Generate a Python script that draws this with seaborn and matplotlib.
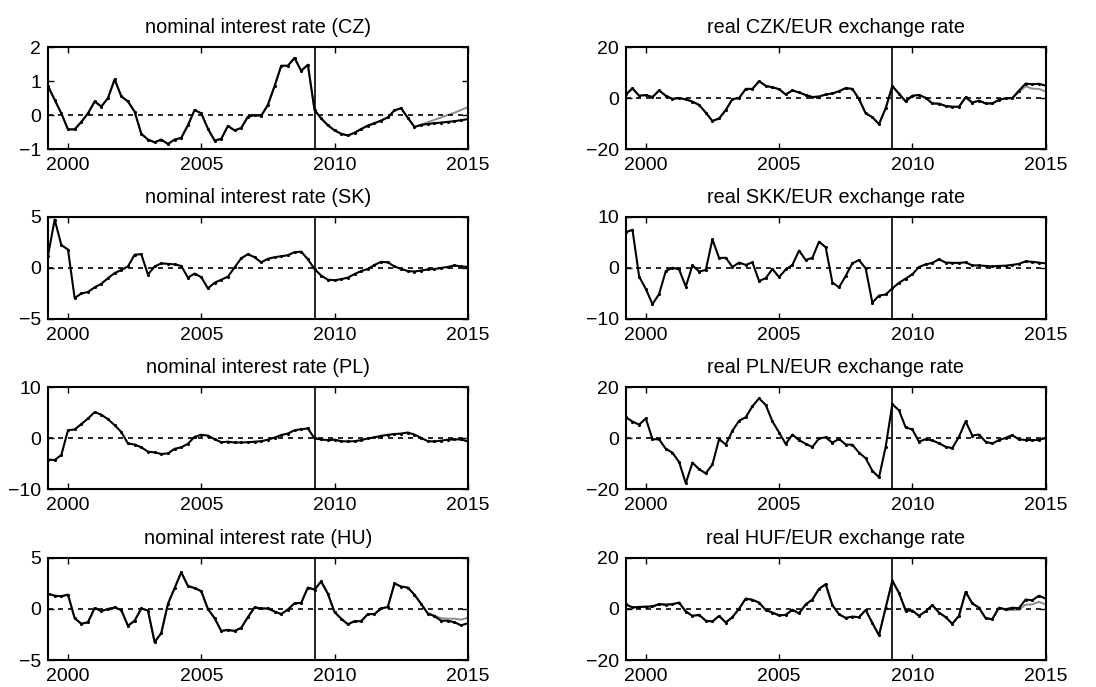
import numpy as np
import pandas as pd
import matplotlib
matplotlib.use('Agg')
import matplotlib.pyplot as plt
import seaborn as sns

# quarterly dates 1999Q2 .. 2015Q1
dates = [1999.25 + 0.25 * i for i in range(64)]
break_date = 2009.25

cz_rate = [0.85, 0.45, 0.05, -0.42, -0.42, -0.2, 0.05, 0.4, 0.25, 0.5, 1.05, 0.55,
           0.4, 0.1, -0.55, -0.72, -0.8, -0.72, -0.85, -0.72, -0.67, -0.3, 0.15, 0.05,
           -0.4, -0.75, -0.7, -0.32, -0.45, -0.38, -0.05, 0.0, -0.02, 0.3, 0.85, 1.45,
           1.45, 1.68, 1.3, 1.48, 0.15, -0.1, -0.3, -0.45, -0.55, -0.6, -0.52, -0.41,
           -0.31, -0.24, -0.16, -0.07, 0.14, 0.2, -0.08, -0.35, -0.29, -0.26, -0.24, -0.22,
           -0.2, -0.18, -0.15, -0.12]
cz_rate_alt = [-0.35, -0.28, -0.21, -0.14, -0.07, 0.0, 0.07, 0.15, 0.23]  # from 2013.0

czk_eur = [1.4, 3.8, 0.9, 1.2, 0.4, 3.0, 0.9, -0.3, 0.0, -0.5, -1.4, -2.7,
           -5.7, -9.0, -8.0, -4.7, -0.4, 0.0, 3.6, 3.6, 6.6, 4.8, 4.2, 3.5,
           1.4, 3.0, 2.2, 1.2, 0.4, 0.6, 1.4, 1.8, 2.7, 3.9, 3.6, -0.4,
           -6.0, -7.5, -10.2, -4.0, 4.7, 1.7, -1.3, 0.9, 1.2, 0.1, -2.1, -2.2,
           -3.1, -3.4, -3.4, 0.3, -1.8, -1.0, -2.1, -2.1, -0.7, -0.1, 0.0, 2.9,
           5.7, 5.4, 5.6, 4.9]
czk_eur_alt = [-0.1, -0.1, 2.4, 4.6, 3.7, 3.6, 2.6]  # from 2013.5

sk_rate = [1.2, 4.75, 2.25, 1.8, -2.95, -2.5, -2.35, -1.9, -1.55, -1.0, -0.5, -0.2,
           0.15, 1.3, 1.35, -0.65, 0.15, 0.45, 0.4, 0.35, 0.2, -0.95, -0.55, -0.9,
           -2.0, -1.45, -1.15, -0.85, 0.05, 0.95, 1.35, 1.05, 0.55, 0.9, 1.05, 1.15,
           1.25, 1.55, 1.6, 0.85, -0.1, -0.75, -1.15, -1.2, -1.1, -0.95, -0.6, -0.3,
           -0.1, 0.3, 0.6, 0.55, 0.15, -0.1, -0.3, -0.35, -0.25, -0.15, -0.1, 0.0,
           0.1, 0.25, 0.15, 0.1]

skk_eur = [7.0, 7.5, -1.7, -4.1, -7.1, -5.1, -0.6, 0.05, -0.3, -3.65, 0.5, -0.7,
           -0.4, 5.6, 1.95, 2.0, 0.2, 1.05, 0.6, 1.1, -2.55, -2.0, -0.2, -1.8,
           -0.3, 0.6, 3.4, 1.55, 2.0, 5.15, 4.05, -2.85, -3.8, -1.55, 0.9, 1.55,
           -0.1, -6.8, -5.4, -5.2, -4.0, -2.9, -2.1, -1.25, 0.2, 0.7, 1.0, 1.7,
           1.05, 1.0, 1.0, 1.1, 0.5, 0.5, 0.4, 0.3, 0.4, 0.45, 0.6, 0.8,
           1.3, 1.2, 1.05, 0.9]

pl_rate = [-4.2, -4.3, -3.3, 1.55, 1.7, 2.75, 3.85, 5.1, 4.6, 3.7, 2.55, 1.2,
           -1.05, -1.25, -1.8, -2.65, -2.8, -3.1, -3.0, -2.1, -1.8, -1.1, 0.25, 0.65,
           0.5, -0.2, -0.8, -0.7, -0.85, -0.85, -0.8, -0.7, -0.6, -0.3, 0.1, 0.6,
           0.9, 1.55, 1.75, 1.9, -0.05, -0.25, -0.4, -0.3, -0.6, -0.65, -0.6, -0.4,
           -0.05, 0.15, 0.45, 0.65, 0.8, 0.9, 1.1, 0.7, 0.05, -0.6, -0.65, -0.5,
           -0.3, -0.25, -0.25, -0.65]

pln_eur = [8.2, 6.5, 5.3, 7.7, -0.4, -0.5, -4.2, -5.7, -9.4, -17.7, -9.6, -12.2,
           -13.8, -10.3, -0.4, -2.5, 2.9, 6.8, 8.2, 12.5, 15.6, 13.0, 6.6, 2.2,
           -2.3, 1.4, -0.8, -2.2, -3.5, -0.1, 0.3, -1.8, -0.3, -2.5, -2.6, -5.7,
           -7.9, -12.8, -15.4, -3.4, 13.3, 10.9, 4.2, 3.4, -1.4, -0.4, -0.9, -2.0,
           -3.4, -3.9, 0.5, 6.6, 1.0, 1.4, -1.4, -2.1, -0.8, 0.1, 1.2, -0.5,
           -0.7, -0.8, -0.7, 0.1]

hu_rate = [1.5, 1.3, 1.25, 1.4, -0.9, -1.45, -1.3, 0.1, -0.2, 0.0, 0.15, -0.1,
           -1.65, -1.15, 0.05, -0.15, -3.25, -2.35, 0.5, 2.05, 3.6, 2.25, 2.05, 1.75,
           0.0, -0.9, -2.15, -2.05, -2.15, -1.85, -0.8, 0.15, 0.05, 0.05, -0.25, -0.5,
           -0.05, 0.55, 0.6, 2.1, 1.9, 2.7, 1.5, -0.3, -0.95, -1.5, -1.2, -1.2,
           -0.5, -0.5, 0.05, 0.2, 2.5, 2.2, 2.1, 1.4, 0.5, -0.45, -0.7, -1.15,
           -1.15, -1.3, -1.6, -1.4]
hu_rate_alt = [-0.4, -0.65, -0.9, -0.95, -0.95, -1.05, -0.85]  # from 2013.5

huf_eur = [1.8, 0.6, 0.8, 0.9, 1.0, 1.9, 1.7, 1.9, 2.5, -1.0, -2.7, -2.3,
           -4.6, -4.9, -2.7, -5.3, -3.2, 0.1, 4.1, 3.6, 2.5, -0.4, -1.4, -2.5,
           -2.3, -0.3, -1.7, 1.8, 3.7, 7.9, 9.7, 1.5, -2.1, -3.5, -3.0, -3.2,
           -0.4, -5.5, -10.3, 0.5, 11.1, 6.3, -0.6, -0.6, -2.7, -0.9, 1.5, -1.4,
           -3.2, -5.8, -2.7, 6.7, 2.2, 0.5, -3.6, -4.0, 0.5, -0.1, 0.5, 0.3,
           3.7, 3.4, 5.2, 4.1]
huf_eur_alt = [-0.5, -0.4, -0.3, 1.7, 1.8, 2.8, 1.8]  # from 2013.5

panels = [
    ('nominal interest rate (CZ)', cz_rate, cz_rate_alt, 2013.0, (-1, 2), [-1, 0, 1, 2]),
    ('real CZK/EUR exchange rate', czk_eur, czk_eur_alt, 2013.5, (-20, 20), [-20, 0, 20]),
    ('nominal interest rate (SK)', sk_rate, None, None, (-5, 5), [-5, 0, 5]),
    ('real SKK/EUR exchange rate', skk_eur, None, None, (-10, 10), [-10, 0, 10]),
    ('nominal interest rate (PL)', pl_rate, None, None, (-10, 10), [-10, 0, 10]),
    ('real PLN/EUR exchange rate', pln_eur, None, None, (-20, 20), [-20, 0, 20]),
    ('nominal interest rate (HU)', hu_rate, hu_rate_alt, 2013.5, (-5, 5), [-5, 0, 5]),
    ('real HUF/EUR exchange rate', huf_eur, huf_eur_alt, 2013.5, (-20, 20), [-20, 0, 20]),
]

sns.set_style('ticks')
plt.rcParams['font.family'] = ['Liberation Sans', 'DejaVu Sans']
plt.rcParams['xtick.direction'] = 'in'
plt.rcParams['ytick.direction'] = 'in'
plt.rcParams['text.color'] = 'black'
plt.rcParams['xtick.color'] = 'black'
plt.rcParams['ytick.color'] = 'black'
plt.rcParams['axes.edgecolor'] = 'black'

fig = plt.figure(figsize=(10.96, 6.87), dpi=100)

lefts = [0.0438, 0.571]
bottoms = [0.783, 0.5357, 0.288, 0.0393]
w, h = 0.383, 0.1485

for k, (title, vals, alt, alt_start, ylim, yticks) in enumerate(panels):
    ax = fig.add_axes([lefts[k % 2], bottoms[k // 2], w, h])
    df = pd.DataFrame({'date': dates, 'value': vals})
    if alt is not None:
        # grey alternative path, black drawn on top of it
        df_alt = df.copy()
        i0 = dates.index(alt_start)
        df_alt.loc[i0:i0 + len(alt) - 1, 'value'] = alt
        sns.lineplot(data=df_alt, x='date', y='value', ax=ax, color='#8c8c8c',
                     linewidth=1.4, estimator=None)
    sns.lineplot(data=df, x='date', y='value', ax=ax, color='black', linewidth=1.5,
                 marker='.', markersize=4.5, markeredgewidth=0, estimator=None)
    ax.axhline(0, color='black', linestyle=(0, (3, 3)), linewidth=1.2)
    ax.axvline(break_date, color='black', linewidth=1.2)
    ax.set_xlim(1999.25, 2015)
    ax.set_ylim(*ylim)
    ax.set_xticks([2000, 2005, 2010, 2015])
    ax.set_yticks(yticks)
    ax.set_yticklabels([str(t).replace('-', '\u2212') for t in yticks])
    ax.tick_params(top=True, right=True, length=4, width=1, labelsize=14,
                   colors='black')
    ax.tick_params(axis='x', pad=6)
    ax.tick_params(axis='y', pad=5)
    for s in ax.spines.values():
        s.set_linewidth(1.5)
        s.set_color('black')
        s.set_visible(True)
    ax.set_xlabel('')
    ax.set_ylabel('')
    ax.set_title(title, fontsize=14.3, pad=10, color='black')

fig.savefig('out.png', dpi=100)
